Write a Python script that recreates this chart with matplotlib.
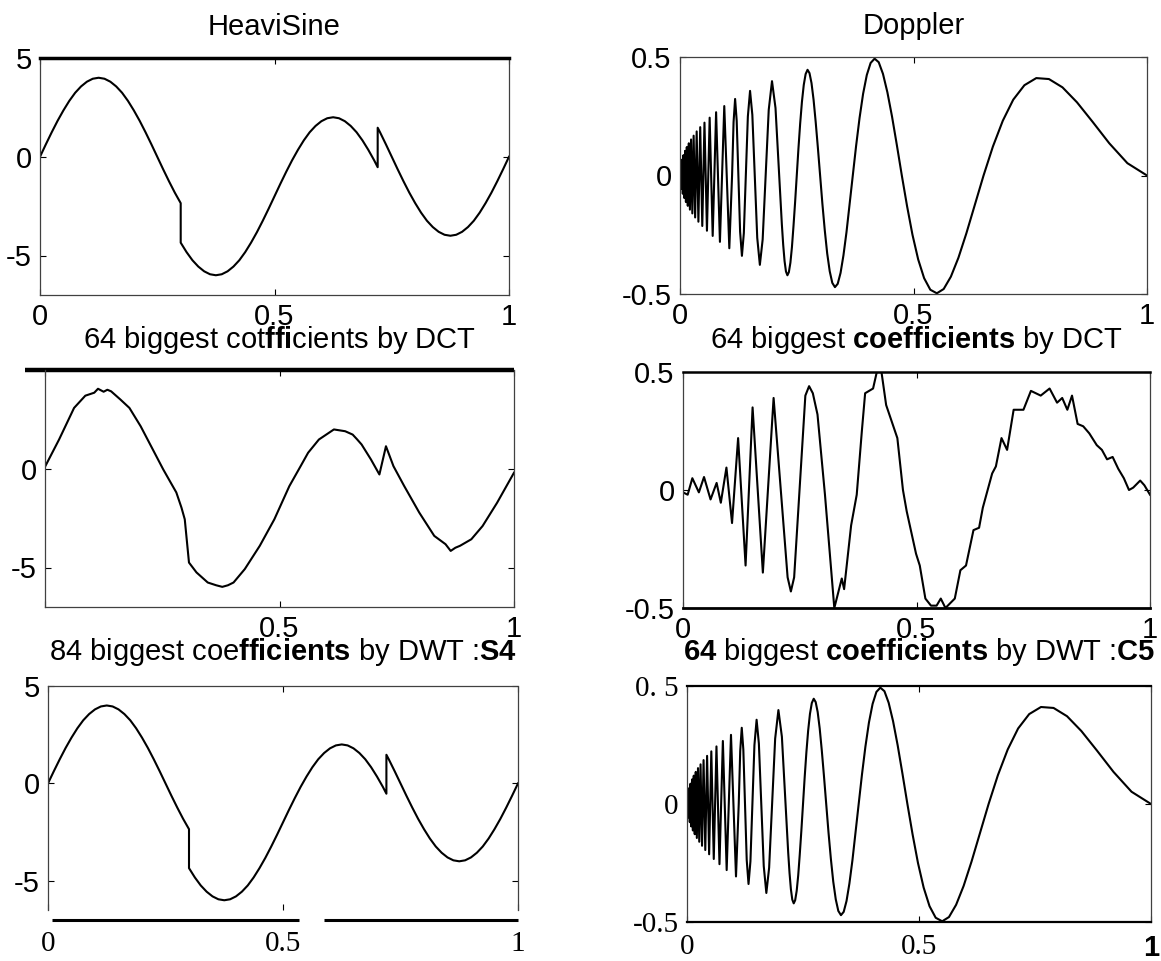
import matplotlib
matplotlib.use("Agg")
import matplotlib.pyplot as plt

plt.rcParams['font.family'] = ['Liberation Sans', 'DejaVu Sans']
plt.rcParams['mathtext.fontset'] = 'custom'
plt.rcParams['mathtext.rm'] = 'Liberation Sans'
plt.rcParams['mathtext.bf'] = 'Liberation Sans:bold'

# HeaviSine (two jumps: t=0.3 and t=0.72)
hs_t = [0.0, 0.0125, 0.025, 0.0375, 0.05, 0.0625, 0.075, 0.0875, 0.1, 0.1125,
        0.125, 0.1375, 0.15, 0.1625, 0.175, 0.1875, 0.2, 0.2125, 0.225, 0.2375,
        0.25, 0.2625, 0.275, 0.2875, 0.3, 0.3, 0.3125, 0.325, 0.3375, 0.35,
        0.3625, 0.375, 0.3875, 0.4, 0.4125, 0.425, 0.4375, 0.45, 0.4625, 0.475,
        0.4875, 0.5, 0.5125, 0.525, 0.5375, 0.55, 0.5625, 0.575, 0.5875, 0.6,
        0.6125, 0.625, 0.6375, 0.65, 0.6625, 0.675, 0.6875, 0.7, 0.7125, 0.72,
        0.72, 0.725, 0.7375, 0.75, 0.7625, 0.775, 0.7875, 0.8, 0.8125, 0.825,
        0.8375, 0.85, 0.8625, 0.875, 0.8875, 0.9, 0.9125, 0.925, 0.9375, 0.95,
        0.9625, 0.975, 0.9875, 1.0]
hs_y = [0.0, 0.63, 1.24, 1.82, 2.35, 2.83, 3.24, 3.56, 3.80, 3.95,
        4.0, 3.95, 3.80, 3.56, 3.24, 2.83, 2.35, 1.82, 1.24, 0.63,
        0.0, -0.63, -1.24, -1.82, -2.35, -4.35, -4.83, -5.24, -5.56, -5.80,
        -5.95, -6.0, -5.95, -5.80, -5.56, -5.24, -4.83, -4.35, -3.82, -3.24,
        -2.63, -2.0, -1.37, -0.76, -0.18, 0.35, 0.83, 1.24, 1.56, 1.80,
        1.95, 2.0, 1.95, 1.80, 1.56, 1.24, 0.83, 0.35, -0.18, -0.53,
        1.47, 1.24, 0.63, 0.0, -0.63, -1.24, -1.82, -2.35, -2.83, -3.24,
        -3.56, -3.80, -3.95, -4.0, -3.95, -3.80, -3.56, -3.24, -2.83, -2.35,
        -1.82, -1.24, -0.63, 0.0]

# HeaviSine from 64 DCT coefficients (middle-left panel)
hsd_t = [0.0, 0.03, 0.062, 0.086, 0.105, 0.113, 0.125, 0.133, 0.141, 0.161,
         0.18, 0.204, 0.228, 0.252, 0.268, 0.28, 0.291, 0.298, 0.307, 0.323,
         0.347, 0.365, 0.378, 0.39, 0.402, 0.426, 0.458, 0.489, 0.521, 0.545,
         0.561, 0.584, 0.616, 0.64, 0.656, 0.665, 0.675, 0.695, 0.713, 0.727,
         0.743, 0.766, 0.798, 0.83, 0.854, 0.865, 0.875, 0.885, 0.909, 0.933,
         0.964, 1.0]
hsd_y = [0.1, 1.48, 3.08, 3.7, 3.85, 4.05, 3.9, 4.0, 3.92, 3.5,
         3.08, 2.15, 1.06, -0.03, -0.7, -1.2, -1.97, -2.56, -4.75, -5.25,
         -5.76, -5.9, -5.98, -5.9, -5.76, -5.08, -3.9, -2.56, -0.88, 0.13,
         0.81, 1.48, 1.99, 1.9, 1.73, 1.5, 1.23, 0.47, -0.29, 1.14,
         0.13, -0.88, -2.22, -3.4, -3.82, -4.16, -4.0, -3.9, -3.57, -2.9,
         -1.72, -0.2]

# Doppler (peaks, troughs, crossings and flanks)
dop_t = [0.0, 0.0006, 0.0012, 0.0019, 0.0025, 0.0032, 0.0038, 0.0045, 0.0053, 0.0060,
         0.0068, 0.0075, 0.0083, 0.0092, 0.0100, 0.0109, 0.0118, 0.0127, 0.0136, 0.0146,
         0.0156, 0.0167, 0.0177, 0.0189, 0.0200, 0.0212, 0.0224, 0.0237, 0.0250, 0.0264,
         0.0278, 0.0292, 0.0308, 0.0324, 0.0340, 0.0357, 0.0375, 0.0394, 0.0413, 0.0433,
         0.0455, 0.0477, 0.0500, 0.0524, 0.0550, 0.0577, 0.0605, 0.0635, 0.0667, 0.0700,
         0.0735, 0.0773, 0.0812, 0.0855, 0.0900, 0.0948, 0.1000, 0.1056, 0.1115, 0.1147,
         0.1180, 0.1214, 0.1250, 0.1287, 0.1326, 0.1367, 0.1409, 0.1453, 0.1500, 0.1549,
         0.1600, 0.1654, 0.1710, 0.1770, 0.1833, 0.1900, 0.1970, 0.2045, 0.2125, 0.2153,
         0.2181, 0.2210, 0.2239, 0.2269, 0.2300, 0.2331, 0.2364, 0.2397, 0.2430, 0.2465,
         0.2500, 0.2536, 0.2573, 0.2611, 0.2650, 0.2690, 0.2731, 0.2773, 0.2816, 0.2860,
         0.2905, 0.2952, 0.3000, 0.3049, 0.3100, 0.3152, 0.3206, 0.3261, 0.3318, 0.3377,
         0.3438, 0.3500, 0.3565, 0.3631, 0.3700, 0.3771, 0.3845, 0.3921, 0.4000, 0.4082,
         0.4167, 0.4255, 0.4346, 0.4441, 0.4540, 0.4643, 0.4750, 0.4862, 0.4978, 0.5100,
         0.5227, 0.5360, 0.5500, 0.5646, 0.5800, 0.5962, 0.6132, 0.6311, 0.6500, 0.6700,
         0.6912, 0.7136, 0.7375, 0.7629, 0.7900, 0.8190, 0.8500, 0.8833, 0.9192, 0.9580,
         1.0]
dop_y = [0.0, -0.024, 0.0, 0.044, 0.0, -0.057, 0.0, 0.067, 0.0, -0.077,
         0.0, 0.086, 0.0, -0.095, 0.0, 0.104, 0.0, -0.112, 0.0, 0.120,
         0.0, -0.128, 0.0, 0.136, 0.0, -0.144, 0.0, 0.152, 0.0, -0.160,
         0.0, 0.168, 0.0, -0.177, 0.0, 0.186, 0.0, -0.195, 0.0, 0.204,
         0.0, -0.213, 0.0, 0.223, 0.0, -0.233, 0.0, 0.244, 0.0, -0.255,
         0.0, 0.267, 0.0, -0.280, 0.0, 0.293, 0.0, -0.307, 0.0, 0.225,
         0.323, 0.231, 0.0, -0.237, -0.339, -0.243, 0.0, 0.249, 0.357, 0.256,
         0.0, -0.263, -0.377, -0.270, 0.0, 0.277, 0.398, 0.285, 0.0, -0.106,
         -0.206, -0.293, -0.361, -0.405, -0.421, -0.408, -0.368, -0.302, -0.214, -0.112,
         0.0, 0.113, 0.219, 0.311, 0.382, 0.428, 0.446, 0.432, 0.390, 0.320,
         0.227, 0.118, 0.0, -0.119, -0.231, -0.329, -0.404, -0.453, -0.471, -0.457,
         -0.411, -0.337, -0.239, -0.124, 0.0, 0.125, 0.243, 0.345, 0.424, 0.475,
         0.493, 0.478, 0.429, 0.351, 0.249, 0.129, 0.0, -0.129, -0.250, -0.354,
         -0.433, -0.482, -0.497, -0.479, -0.427, -0.347, -0.244, -0.125, 0.0, 0.122,
         0.231, 0.320, 0.381, 0.411, 0.407, 0.372, 0.309, 0.227, 0.136, 0.052,
         0.0]

# Doppler from 64 DCT coefficients (middle-right panel)
dd_t = [0.0, 0.01, 0.02, 0.034, 0.045, 0.059, 0.072, 0.081, 0.093, 0.105,
        0.118, 0.134, 0.149, 0.171, 0.194, 0.224, 0.231, 0.238, 0.262, 0.27,
        0.278, 0.288, 0.304, 0.324, 0.34, 0.345, 0.36, 0.372, 0.383, 0.39,
        0.407, 0.415, 0.425, 0.435, 0.459, 0.471, 0.479, 0.499, 0.507, 0.519,
        0.531, 0.543, 0.552, 0.562, 0.582, 0.594, 0.606, 0.622, 0.634, 0.642,
        0.662, 0.67, 0.682, 0.694, 0.708, 0.729, 0.745, 0.766, 0.785, 0.801,
        0.812, 0.823, 0.833, 0.845, 0.857, 0.87, 0.886, 0.897, 0.908, 0.92,
        0.932, 0.944, 0.955, 0.964, 0.979, 0.988, 1.0]
dd_y = [-0.01, -0.02, 0.05, -0.01, 0.055, -0.04, 0.03, -0.054, 0.095, -0.14,
        0.22, -0.32, 0.35, -0.35, 0.39, -0.37, -0.43, -0.37, 0.40, 0.44,
        0.41, 0.32, -0.02, -0.5, -0.375, -0.42, -0.15, -0.02, 0.25, 0.41,
        0.43, 0.5, 0.5, 0.36, 0.22, 0.0, -0.09, -0.27, -0.32, -0.46,
        -0.49, -0.49, -0.46, -0.5, -0.46, -0.34, -0.32, -0.17, -0.16, -0.075,
        0.07, 0.1, 0.22, 0.17, 0.34, 0.34, 0.42, 0.4, 0.43, 0.37,
        0.39, 0.34, 0.4, 0.28, 0.27, 0.24, 0.19, 0.17, 0.13, 0.14,
        0.09, 0.05, 0.0, 0.01, 0.04, 0.02, -0.02]

# the DWT reconstructions look the same as the originals
hsw_t, hsw_y = hs_t, hs_y
dw_t, dw_y = dop_t, dop_y

W, H = 1161, 961
fig = plt.figure(figsize=(W / 100, H / 100), dpi=100)


def px_axes(l, r, t, b):
    return fig.add_axes([l / W, 1 - b / H, (r - l) / W, (b - t) / H])


def setup(ax, ylim, yticks, ylabels, xlabels, title, tpad=16, xpad=6):
    ax.set_xlim(0, 1)
    ax.set_ylim(ylim)
    ax.set_xticks([0, 0.5, 1])
    ax.set_xticklabels(xlabels)
    ax.set_yticks(yticks)
    ax.set_yticklabels(ylabels)
    ax.tick_params(direction='in', length=4, width=0.8, top=True, right=True,
                   labelsize=21)
    ax.tick_params(axis='x', pad=xpad)
    ax.tick_params(axis='y', pad=6)
    ax.set_title(title, fontsize=21, pad=tpad)
    for s in ax.spines.values():
        s.set_linewidth(0.9)
        s.set_color('0.25')


lw = 1.5

# row 1
ax = px_axes(40, 509, 58, 295)
ax.plot(hs_t, hs_y, color='k', lw=lw)
setup(ax, (-7, 5), [-5, 0, 5], ['-5', '0', '5'], ['0', '0.5', '1'], 'HeaviSine', tpad=16.5)
ax.spines['top'].set_linewidth(2.5)
ax.spines['top'].set_color('k')

ax = px_axes(680, 1147, 57, 294)
ax.plot(dop_t, dop_y, color='k', lw=lw)
setup(ax, (-0.5, 0.5), [-0.5, 0, 0.5], ['-0.5', '0', '0.5'], ['0', '0.5', '1'], 'Doppler', tpad=16.5)

# row 2
ax = px_axes(45, 514, 370, 607)
ax.plot(hsd_t, hsd_y, color='k', lw=lw)
setup(ax, (-7, 5), [-5, 0, 5], ['-5', '0', ''], ['', '0.5', '1'],
      r'64 biggest cot$\mathbf{ffi}$cients by DCT')
ax.spines['top'].set_visible(False)
ax.plot([-0.043, 1.0], [1, 1], transform=ax.transAxes, color='k', lw=3.2,
        clip_on=False, solid_capstyle='butt')

ax = px_axes(683, 1150, 372, 608)
ax.plot(dd_t, dd_y, color='k', lw=lw)
setup(ax, (-0.5, 0.5), [-0.5, 0, 0.5], ['-0.5', '0', '0.5'], ['0', '0.5', '1'],
      r'64 biggest $\mathbf{coefficients}$ by DCT', tpad=17)
ax.spines['top'].set_linewidth(1.8)
ax.spines['bottom'].set_linewidth(2.0)
ax.spines['top'].set_color('k')
ax.spines['bottom'].set_color('k')

# row 3
ax = px_axes(48, 518, 686, 910)
ax.plot(hsw_t, hsw_y, color='k', lw=lw)
setup(ax, (-6.5, 5), [-5, 0, 5], ['-5', '0', '5'], ['0', '0.5', '1'],
      r'84 biggest coe$\mathbf{fficients}$ by DWT :$\mathbf{S4}$', tpad=18.5, xpad=15)
for lab in ax.get_xticklabels():
    lab.set_family('Liberation Serif')
ax.spines['bottom'].set_visible(False)
ax.spines['top'].set_linestyle((0, (1, 1)))
for x0, x1 in [(0.009, 0.534), (0.587, 1.0)]:
    ax.plot([x0, x1], [-0.044, -0.044], transform=ax.transAxes, color='k', lw=2.2,
            clip_on=False, solid_capstyle='butt')

ax = px_axes(687, 1151, 686, 922)
ax.plot(dw_t, dw_y, color='k', lw=lw)
setup(ax, (-0.5, 0.5), [-0.5, 0, 0.5], ['-0.5', '0', '0. 5'], ['0', '0.5', '1'],
      r'$\mathbf{64}$ biggest $\mathbf{coefficients}$ by DWT :$\mathbf{C5}$', tpad=18.5, xpad=9)
for lab in ax.get_yticklabels():
    lab.set_family('Liberation Serif')
xl = ax.get_xticklabels()
xl[0].set_family('Liberation Serif')
xl[1].set_family('Liberation Serif')
xl[2].set_fontweight('bold')
ax.spines['top'].set_linewidth(1.6)
ax.spines['bottom'].set_linewidth(1.6)
ax.spines['top'].set_color('k')
ax.spines['bottom'].set_color('k')

fig.savefig('out.png', dpi=100)
